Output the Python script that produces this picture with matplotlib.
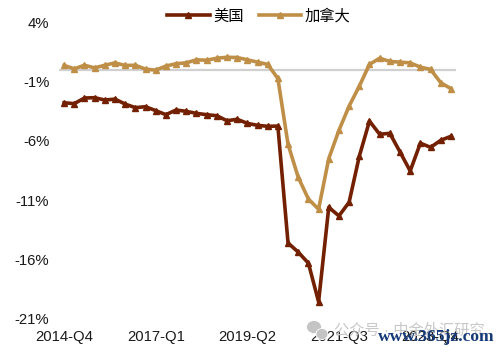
import matplotlib
matplotlib.use("Agg")
import matplotlib.pyplot as plt
from matplotlib.patches import Ellipse

plt.rcParams['font.family'] = ['Liberation Sans', 'Noto Sans CJK SC', 'DejaVu Sans']

quarters = [f"{y}-Q{q}" for y in range(2014, 2025) for q in range(1, 5)][3:42]
us = [-2.8,-2.87,-2.4,-2.37,-2.57,-2.49,-2.91,-3.21,-3.13,-3.46,-3.8,-3.41,-3.52,-3.69,-3.8,-3.89,-4.31,-4.19,-4.53,-4.7,-4.78,-4.76,
      -14.6,-15.37,-16.3,-19.55,-11.6,-12.32,-11.17,-7.3,-4.34,-5.45,-5.37,-6.94,-8.54,-6.2,-6.55,-5.96,-5.62]
canada = [.34,.06,.36,.14,.36,.56,.34,.36,.03,-.05,.29,.49,.56,.82,.78,.95,1.03,1.01,.82,.62,.43,-.75,
          -6.29,-9.07,-10.9,-11.76,-7.5,-5.12,-3.08,-1.4,.43,.95,.68,.62,.56,.2,.01,-1.11,-1.61]
yticks = [4, -1, -6, -11, -16, -21]
tick_every = 9
labels = ["美国", "加拿大"]

fig = plt.figure(figsize=(5, 3.52), dpi=100)
ax = fig.add_axes([59/500, 1-319/352, 397/500, (319-22)/352])
x = list(range(len(quarters)))
ax.axhline(0, color="#D0D0D0", lw=1.6, zorder=1)
ax.plot(x, us, color="#732000", lw=2.6, marker="^", ms=5, mec="#732000", label=labels[0], zorder=3)
ax.plot(x, canada, color="#BF8F48", lw=2.6, marker="^", ms=5, mec="#BF8F48", label=labels[1], zorder=3)
ax.set_xlim(-0.5, len(x)-0.5)
ax.set_ylim(-21, 4)
ax.set_yticks(yticks)
ax.set_yticklabels([f"{v}%" for v in yticks], fontsize=10.7, color="#1A1A1A")
ax.set_xticks(x[::tick_every])
ax.set_xticklabels(quarters[::tick_every], fontsize=10.7, color="#1A1A1A")
ax.tick_params(length=0, pad=7)
ax.tick_params(axis="x", pad=8)
for s in ax.spines.values():
    s.set_visible(False)
ax.legend(loc="upper center", bbox_to_anchor=(0.503, 1.09), ncol=2, frameon=False,
          fontsize=11, handlelength=2.8, columnspacing=1.0, handletextpad=0.2, markerscale=0.8)

for cx, cy, w, h in [(314, 327, 15, 13), (322, 334, 12, 11)]:
    fig.add_artist(Ellipse((cx/500, 1-cy/352), w/500, h/352, transform=fig.transFigure,
                           facecolor="#C4C4C4", edgecolor="white", lw=0.6, zorder=1))
fig.text(334/500, 1-330/352, "公众号 · 中金外汇研究", fontsize=11, color="#C8C8C8", va="center", zorder=0)
fig.text(378/500, 1-337/352, "www.365jz.com", fontsize=12.6, color="#163A78", va="center",
         family=["Liberation Serif"], weight="bold", zorder=5)
fig.savefig("out.png", dpi=100)
